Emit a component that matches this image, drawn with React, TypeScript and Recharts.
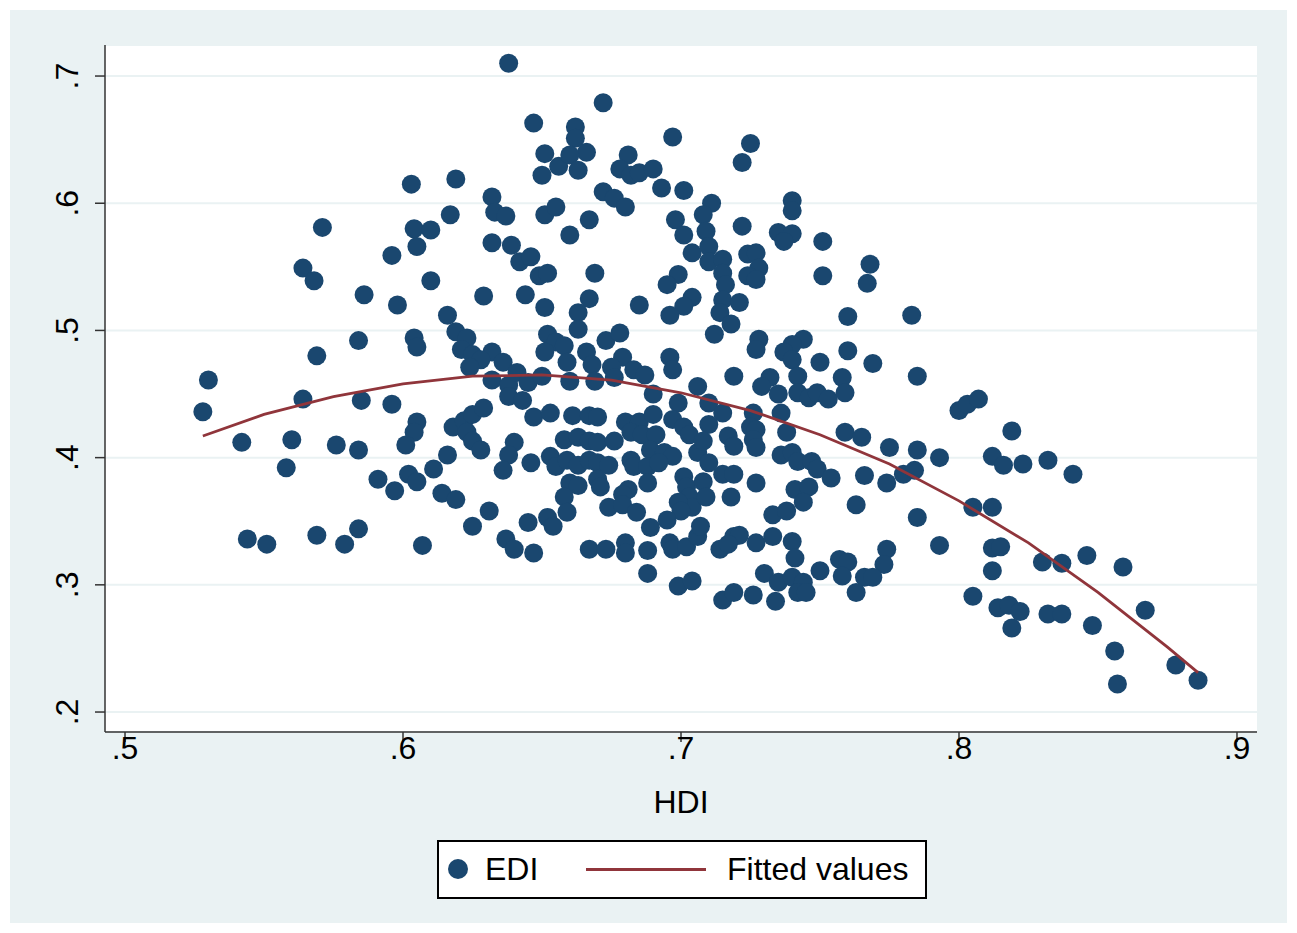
import React from 'react';
import { ScatterChart, Scatter, XAxis, YAxis, CartesianGrid } from 'recharts';

const hdi = [
  0.530, 0.528, 0.542, 0.544, 0.551, 0.558, 0.560, 0.564, 0.569, 0.579, 0.584, 0.569, 0.571, 0.564, 0.568, 0.576,
  0.584, 0.585, 0.584, 0.586, 0.591, 0.597, 0.596, 0.596, 0.598, 0.603, 0.604, 0.605, 0.604, 0.605, 0.605, 0.604,
  0.601, 0.602, 0.605, 0.607,
  0.638, 0.647, 0.651, 0.656, 0.650, 0.619, 0.632, 0.633, 0.637, 0.651, 0.655, 0.617, 0.610, 0.632, 0.639, 0.642,
  0.646, 0.649, 0.652, 0.610, 0.629, 0.644, 0.651, 0.616, 0.619, 0.623, 0.621, 0.625, 0.632, 0.628, 0.636, 0.624,
  0.632, 0.638, 0.641, 0.645, 0.650, 0.652, 0.655, 0.651,
  0.638, 0.643, 0.647, 0.653, 0.618, 0.622, 0.625, 0.629, 0.623, 0.625, 0.628, 0.640, 0.638, 0.636, 0.646, 0.653,
  0.655, 0.616, 0.611, 0.614, 0.619, 0.631, 0.625, 0.637, 0.640, 0.647, 0.645, 0.652, 0.654,
  0.672, 0.662, 0.662, 0.666, 0.660, 0.663, 0.681, 0.678, 0.682, 0.685, 0.690, 0.697, 0.693, 0.701, 0.672, 0.676,
  0.680, 0.667, 0.660, 0.698, 0.701, 0.704, 0.669, 0.699, 0.695, 0.667, 0.685, 0.704, 0.701, 0.696, 0.663, 0.663,
  0.658, 0.659, 0.666, 0.668, 0.673, 0.678, 0.679, 0.683, 0.687, 0.675, 0.676, 0.696, 0.697, 0.660, 0.669, 0.706,
  0.690, 0.699, 0.661, 0.667, 0.670, 0.680, 0.685, 0.690, 0.697, 0.701, 0.703, 0.658, 0.663, 0.667, 0.670, 0.676,
  0.682, 0.686, 0.691, 0.689, 0.694, 0.697, 0.659, 0.663, 0.667, 0.670, 0.674, 0.682, 0.683, 0.688, 0.692, 0.706,
  0.701, 0.702, 0.703, 0.704, 0.660, 0.663, 0.670, 0.671, 0.681, 0.679, 0.688, 0.699, 0.700, 0.658, 0.659, 0.674,
  0.679, 0.684, 0.689, 0.695, 0.667, 0.673, 0.680, 0.680, 0.688, 0.696, 0.697, 0.702, 0.706,
  0.688, 0.699, 0.704,
  0.725, 0.722, 0.711, 0.708, 0.740, 0.740, 0.722, 0.709, 0.710, 0.735, 0.740, 0.737, 0.751, 0.724, 0.727, 0.728,
  0.724, 0.727, 0.751, 0.710, 0.715, 0.715, 0.716, 0.715, 0.721, 0.714, 0.718, 0.712, 0.728, 0.727, 0.744, 0.740,
  0.737, 0.740, 0.750, 0.719, 0.732, 0.729, 0.742,
  0.710, 0.735, 0.742, 0.746, 0.749, 0.753, 0.715, 0.726, 0.736, 0.710, 0.725, 0.727, 0.726, 0.727, 0.738, 0.708,
  0.710, 0.717, 0.719, 0.736, 0.740, 0.742, 0.747, 0.749, 0.754, 0.715, 0.719, 0.727, 0.708, 0.741, 0.746, 0.744,
  0.718, 0.709, 0.707, 0.733, 0.738, 0.719, 0.721, 0.714, 0.717, 0.727, 0.733, 0.740,
  0.741, 0.715, 0.719, 0.726, 0.730, 0.735, 0.734, 0.740, 0.744, 0.742, 0.745, 0.750,
  0.768, 0.767, 0.760, 0.783, 0.760, 0.769, 0.785, 0.758, 0.759, 0.759, 0.765, 0.775, 0.785, 0.793, 0.800, 0.803,
  0.807, 0.766, 0.774, 0.780, 0.784, 0.763, 0.785, 0.805, 0.793, 0.774, 0.773, 0.757, 0.760, 0.758, 0.766, 0.769,
  0.763, 0.805,
  0.819, 0.812, 0.816, 0.823, 0.832, 0.841, 0.812, 0.812, 0.815, 0.812, 0.830, 0.837, 0.846, 0.859, 0.814, 0.818,
  0.822, 0.819, 0.832, 0.837, 0.848, 0.867, 0.856, 0.857, 0.878, 0.886,
];

const edi = [
  0.461, 0.436, 0.412, 0.336, 0.332, 0.392, 0.414, 0.446, 0.339, 0.332, 0.344, 0.480, 0.581, 0.549, 0.539, 0.410,
  0.406, 0.445, 0.492, 0.528, 0.383, 0.374, 0.442, 0.559, 0.520, 0.615, 0.580, 0.566, 0.494, 0.487, 0.428, 0.420,
  0.410, 0.387, 0.381, 0.331,
  0.710, 0.663, 0.639, 0.629, 0.622, 0.619, 0.605, 0.593, 0.590, 0.591, 0.597, 0.591, 0.579, 0.569, 0.567, 0.554,
  0.558, 0.543, 0.545, 0.539, 0.527, 0.528, 0.518, 0.512, 0.499, 0.494, 0.485, 0.481, 0.483, 0.477, 0.475, 0.471,
  0.461, 0.457, 0.467, 0.459, 0.464, 0.497, 0.491, 0.483,
  0.448, 0.445, 0.432, 0.435, 0.424, 0.429, 0.434, 0.439, 0.420, 0.413, 0.406, 0.412, 0.402, 0.390, 0.396, 0.401,
  0.393, 0.402, 0.391, 0.372, 0.367, 0.358, 0.346, 0.336, 0.328, 0.325, 0.349, 0.353, 0.346,
  0.679, 0.660, 0.651, 0.640, 0.638, 0.626, 0.638, 0.627, 0.622, 0.624, 0.627, 0.652, 0.612, 0.610, 0.609, 0.604,
  0.597, 0.587, 0.575, 0.587, 0.575, 0.561, 0.545, 0.544, 0.536, 0.525, 0.520, 0.526, 0.519, 0.512, 0.514, 0.501,
  0.488, 0.475, 0.483, 0.473, 0.492, 0.498, 0.479, 0.469, 0.465, 0.471, 0.463, 0.479, 0.469, 0.460, 0.460, 0.456,
  0.450, 0.443, 0.433, 0.433, 0.432, 0.428, 0.428, 0.434, 0.430, 0.424, 0.418, 0.414, 0.416, 0.413, 0.412, 0.413,
  0.420, 0.418, 0.418, 0.406, 0.404, 0.401, 0.398, 0.394, 0.398, 0.396, 0.394, 0.398, 0.393, 0.393, 0.396, 0.404,
  0.385, 0.377, 0.369, 0.361, 0.380, 0.378, 0.383, 0.377, 0.375, 0.371, 0.380, 0.365, 0.358, 0.369, 0.357, 0.361,
  0.363, 0.357, 0.345, 0.351, 0.328, 0.328, 0.333, 0.325, 0.327, 0.333, 0.328, 0.330, 0.338,
  0.309, 0.299, 0.303,
  0.647, 0.632, 0.600, 0.591, 0.602, 0.594, 0.582, 0.578, 0.566, 0.577, 0.576, 0.570, 0.570, 0.560, 0.561, 0.549,
  0.543, 0.540, 0.543, 0.554, 0.556, 0.545, 0.536, 0.524, 0.522, 0.514, 0.505, 0.497, 0.493, 0.485, 0.493, 0.489,
  0.483, 0.477, 0.475, 0.464, 0.463, 0.456, 0.464,
  0.443, 0.450, 0.451, 0.447, 0.451, 0.446, 0.435, 0.435, 0.435, 0.426, 0.424, 0.422, 0.414, 0.408, 0.420, 0.413,
  0.396, 0.417, 0.409, 0.402, 0.404, 0.397, 0.397, 0.391, 0.384, 0.387, 0.387, 0.380, 0.381, 0.375, 0.377, 0.365,
  0.369, 0.369, 0.346, 0.355, 0.358, 0.338, 0.339, 0.328, 0.332, 0.333, 0.338, 0.334,
  0.321, 0.288, 0.294, 0.292, 0.309, 0.302, 0.287, 0.306, 0.302, 0.294, 0.294, 0.311,
  0.552, 0.537, 0.511, 0.512, 0.484, 0.474, 0.464, 0.463, 0.451, 0.420, 0.416, 0.408, 0.406, 0.400, 0.437, 0.442,
  0.446, 0.386, 0.380, 0.387, 0.390, 0.363, 0.353, 0.361, 0.331, 0.328, 0.316, 0.320, 0.318, 0.307, 0.306, 0.306,
  0.294, 0.291,
  0.421, 0.401, 0.394, 0.395, 0.398, 0.387, 0.361, 0.329, 0.330, 0.311, 0.318, 0.317, 0.323, 0.314, 0.282, 0.284,
  0.279, 0.266, 0.277, 0.277, 0.268, 0.280, 0.248, 0.222, 0.237, 0.225,
];

// fitted values curve
const fitHdi = [0.528, 0.55, 0.575, 0.6, 0.625, 0.65, 0.675, 0.7, 0.725, 0.75, 0.775, 0.8, 0.825, 0.85, 0.875, 0.886];
const fitEdi = [0.417, 0.434, 0.448, 0.458, 0.464, 0.465, 0.461, 0.451, 0.437, 0.418, 0.395, 0.366, 0.333, 0.294, 0.251, 0.231];

const xTicks = [0.5, 0.6, 0.7, 0.8, 0.9];
const yTicks = [0.2, 0.3, 0.4, 0.5, 0.6, 0.7];

const points = hdi.map((h, i) => ({ hdi: h, edi: edi[i] }));
const fitted = fitHdi.map((h, i) => ({ hdi: h, edi: fitEdi[i] }));

const FONT = '"Liberation Sans", Arial, sans-serif';
const NAVY = '#1a476f';
const MAROON = '#90353b';

const fmt = (v: number) => v.toFixed(1).replace(/^0/, '');

const XTick = (props: any) => (
  <text x={props.x} y={759} textAnchor="middle" fontSize={32} fontFamily={FONT} fill="#000">
    {fmt(props.payload.value)}
  </text>
);

const YTick = (props: any) => (
  <text
    transform={`translate(78, ${props.y}) rotate(-90)`}
    textAnchor="middle"
    fontSize={32}
    fontFamily={FONT}
    fill="#000"
  >
    {fmt(props.payload.value)}
  </text>
);

const Dot = (props: any) => <circle cx={props.cx} cy={props.cy} r={9.5} fill={NAVY} />;

export default function App() {
  return (
    <div style={{ position: 'absolute', left: 0, top: 0, width: 1297, height: 933, background: '#fff' }}>
      <div style={{ position: 'absolute', left: 10, top: 10, width: 1277, height: 913, background: '#eaf2f3' }} />
      <div style={{ position: 'absolute', left: 0, top: 0 }}>
        <ScatterChart width={1297} height={933} margin={{ top: 45, right: 40, bottom: 141, left: 45 }}>
          <CartesianGrid vertical={false} stroke="#eaf2f3" strokeWidth={2} fill="#fff" />
          <XAxis
            type="number"
            dataKey="hdi"
            domain={[0.4928, 0.9072]}
            ticks={xTicks}
            allowDataOverflow
            height={60}
            tickSize={10}
            stroke="#333"
            strokeWidth={1.5}
            tick={<XTick />}
            label={{ content: () => (
              <text x={681} y={813} textAnchor="middle" fontSize={32} fontFamily={FONT} fill="#000">HDI</text>
            ) }}
          />
          <YAxis
            type="number"
            dataKey="edi"
            domain={[0.1843, 0.7244]}
            ticks={yTicks}
            allowDataOverflow
            width={60}
            tickSize={10}
            stroke="#333"
            strokeWidth={1.5}
            tick={<YTick />}
          />
          <Scatter name="EDI" data={points} shape={<Dot />} isAnimationActive={false} />
          <Scatter
            name="Fitted values"
            data={fitted}
            line={{ stroke: MAROON, strokeWidth: 2.8 }}
            lineType="joint"
            shape={() => <g />}
            isAnimationActive={false}
          />
        </ScatterChart>
      </div>
      <div
        style={{
          position: 'absolute',
          left: 437,
          top: 840,
          width: 486,
          height: 55,
          background: '#fff',
          border: '2px solid #000',
          fontFamily: FONT,
          fontSize: 32,
          color: '#000',
        }}
      >
        <div style={{ position: 'absolute', left: 9, top: 17, width: 20, height: 20, borderRadius: '50%', background: NAVY }} />
        <div style={{ position: 'absolute', left: 46, top: 9, lineHeight: '36px' }}>EDI</div>
        <div style={{ position: 'absolute', left: 147, top: 26, width: 120, height: 3, background: MAROON }} />
        <div style={{ position: 'absolute', left: 288, top: 9, lineHeight: '36px' }}>Fitted values</div>
      </div>
    </div>
  );
}
